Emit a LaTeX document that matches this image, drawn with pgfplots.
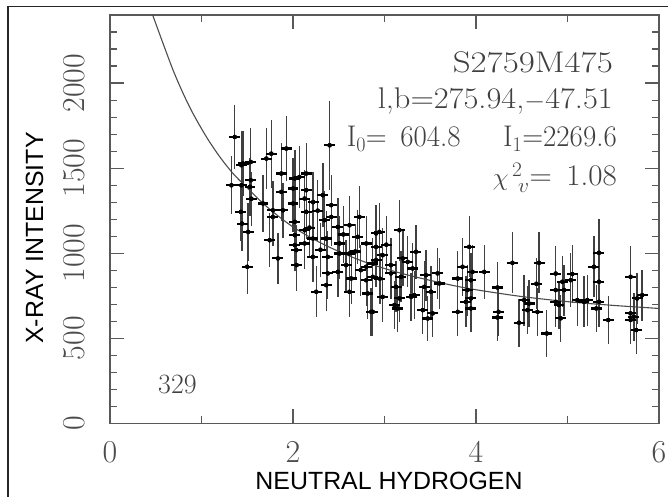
\documentclass[border=0pt]{standalone}
\usepackage{pgfplots}
\pgfplotsset{compat=1.18}
\usepackage{pgfplotstable}
\usepackage{graphicx}
\usepackage{fontspec}
\newfontfamily\arialf{Liberation Sans}

\pgfplotstableread{
x y ey
1.363 1683 190
1.327 1399 170
1.436 1517 200
1.436 1399 170
1.454 1527 190
1.430 1243 170
1.443 1174 160
1.510 1125 170
1.500 920 160
1.538 1536 200
1.538 1429 180
1.530 1390 170
1.545 1320 160
1.709 1556 180
1.763 1585 200
1.927 1615 190
1.872 1468 180
1.872 1360 170
1.890 1252 160
1.672 1292 170
1.745 1076 160
1.780 1213 170
1.835 969 150
1.780 1252 170
2.000 1380 180
2.000 1292 170
2.020 1184 160
2.020 1106 160
2.020 1047 150
2.040 930 150
2.070 1448 180
2.400 1634 260
2.020 1439 170
2.145 1468 180
2.145 1370 170
2.127 1321 170
2.145 1243 160
2.036 1018 150
2.127 1135 160
2.127 1057 150
2.217 1086 160
2.217 978 150
2.254 773 150
2.326 1341 190
2.345 1194 170
2.418 1282 180
2.418 1213 170
2.363 1086 160
2.380 978 150
2.380 881 150
2.363 812 150
2.490 1154 170
2.509 1057 160
2.509 998 150
2.490 890 150
2.617 1164 170
2.617 998 160
2.636 851 150
2.617 773 150
2.726 1213 180
2.708 1096 160
2.800 1057 160
2.800 920 150
2.800 841 150
2.817 763 150
2.854 655 140
2.908 1116 170
2.908 959 160
2.180 1150 170
2.270 1250 180
2.300 1020 160
2.550 1110 170
2.680 1010 160
2.740 900 150
2.950 850 150
3.020 1050 170
2.220 1300 180
2.580 930 150
2.944 1125 170
2.908 1037 160
2.980 988 160
2.871 939 150
2.871 861 150
2.871 655 140
2.980 743 150
3.070 930 160
3.070 881 150
3.163 1135 180
3.200 969 160
3.253 949 150
3.180 861 150
3.126 802 150
3.163 734 140
3.108 695 140
3.144 675 140
3.344 1008 160
3.307 910 150
3.326 753 140
3.290 743 140
3.453 871 150
3.435 802 150
3.417 665 140
3.472 616 130
3.508 773 150
3.526 646 140
3.580 881 150
3.600 822 150
3.800 851 160
3.800 655 140
3.926 1037 180
3.853 920 170
3.962 890 160
3.944 841 160
3.907 783 150
3.944 734 150
3.889 714 150
3.944 675 140
4.090 890 160
4.398 943 180
4.235 798 150
4.246 655 140
4.235 622 140
4.689 943 180
4.660 820 150
4.526 724 150
4.580 704 140
4.562 665 140
4.671 655 140
4.470 591 140
4.773 528 140
4.871 880 160
4.871 783 150
4.871 714 150
4.907 695 140
4.925 617 140
4.944 832 150
4.962 783 150
5.035 841 160
5.053 877 170
5.107 724 150
5.180 714 150
5.217 724 150
5.289 920 180
5.344 1002 200
5.344 832 160
5.344 714 150
5.314 675 140
5.445 607 140
5.689 861 180
5.689 646 140
5.689 607 140
5.725 626 140
5.751 548 140
5.761 734 150
5.816 753 150
}\hidata

\pgfplotstableread{
x y
0.466 2400
0.581 2231
0.690 2075
0.800 1938
0.908 1820
1.054 1683
1.200 1566
1.345 1468
1.490 1389
1.636 1311
1.780 1243
2.000 1154
2.250 1075
2.500 1010
2.750 955
3.000 910
3.250 872
3.500 840
3.750 810
4.000 785
4.500 745
5.000 715
5.500 693
6.000 675
}\curvedata

\begin{document}
\begin{tikzpicture}[x=1bp,y=1bp]
\useasboundingbox (0,0) rectangle (668,497);
\draw[line width=1.3bp, black!85] (8,0) -- (8,490.5) -- (668,490.5);
\begin{axis}[
  at={(110bp,73.7bp)}, anchor=south west,
  scale only axis, width=549bp, height=408.3bp,
  xmin=0, xmax=6, ymin=0, ymax=2400,
  xtick={0,2,4,6}, minor xtick={1,3,5},
  ytick={0,500,1000,1500,2000}, minor ytick={100,200,...,2400},
  tick align=inside,
  major tick length=14bp, minor tick length=7bp,
  axis line style={black!65, line width=1.3bp},
  every tick/.style={black!65, line width=1.1bp},
  /pgf/number format/assume math mode=true,
  tick label style={font=\fontsize{32}{36}\selectfont, text=black!70, inner sep=0pt},
  yticklabel style={rotate=90, anchor=south},
  xticklabel style={anchor=north},
  yticklabel shift=25bp, xticklabel shift=18bp,
  scaled y ticks=false,
  /pgf/number format/1000 sep={},
  clip=true,
]
\addplot[black!70, line width=1.1bp, smooth] table[x=x, y=y] {\curvedata};
\addplot[only marks, mark=none,
  error bars/.cd, y dir=both, y explicit, error mark=none,
  error bar style={draw=black!75, solid, line width=1.4bp}]
  table[x=x, y=y, y error=ey] {\hidata};
\addplot[only marks, mark=none,
  error bars/.cd, x dir=both, x fixed=0.06, error mark=none,
  error bar style={draw=black, solid, line width=2.1bp}]
  table[x=x, y=y] {\hidata};
\end{axis}
\begin{scope}[every node/.style={text=black!75, inner sep=0pt}]
\node[anchor=base east] at (613,424) {\resizebox{160bp}{\height}{\fontsize{30}{34}\selectfont S2759M475}};
\node[anchor=base east] at (613,388) {\resizebox{235bp}{\height}{\fontsize{30}{34}\selectfont l,b=275.94,$-$47.51}};
\node[anchor=base east] at (617,350) {\resizebox{270bp}{\height}{\fontsize{30}{34}\selectfont I$_0$= \,604.8\quad\, I$_1$=2269.6}};
\node[anchor=base east] at (617,311) {\resizebox{124bp}{\height}{\fontsize{30}{34}\selectfont $\chi^{\,2}_{\;\,v}$= \,1.08}};
\node[anchor=base west] at (158,103) {\fontsize{28}{32}\selectfont 329};
\end{scope}
\node[anchor=base, inner sep=0pt] at (389,7) {\arialf\fontsize{25}{30}\selectfont NEUTRAL HYDROGEN};
\node[anchor=base, rotate=90, inner sep=0pt] at (43,259) {\arialf\fontsize{25}{30}\selectfont X-RAY INTENSITY};
\end{tikzpicture}
\end{document}
